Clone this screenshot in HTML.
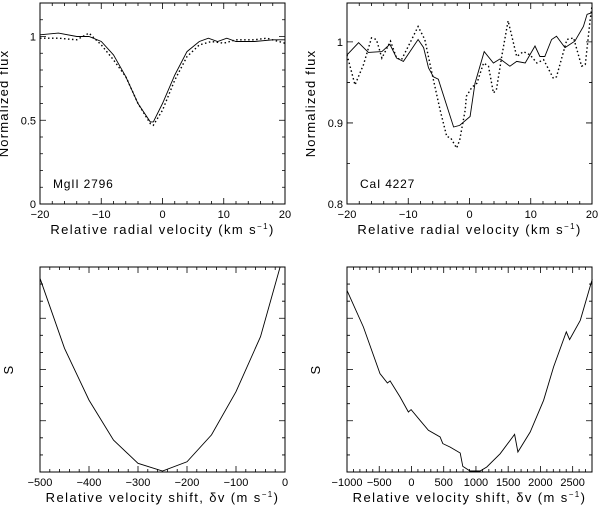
<!DOCTYPE html>
<html><head><meta charset="utf-8"><style>
html,body{margin:0;padding:0;background:#fff}
svg{display:block}
text{font-family:"Liberation Sans",sans-serif;fill:#000}
</style></head><body>
<svg id="fig" width="600" height="507" viewBox="0 0 600 507"></svg>
<script>
// ---- data ----
const mgVel = [-20,-17,-14,-12,-10,-8,-6,-4,-2,-1.5,0,2,4,6,7.5,9,10.5,12,15,18,20];
const mgFluxSolid = [1.01,1.02,1.0,1.0,0.97,0.89,0.76,0.6,0.49,0.49,0.6,0.77,0.91,0.97,0.99,0.97,0.99,0.97,0.97,0.98,0.98];
const mgVelDot = [-20,-17,-14,-12,-10,-8,-6,-4,-2,-1.5,0,2,4,6,8,10,12,15,17,20];
const mgFluxDot = [0.99,0.99,0.98,1.02,0.95,0.86,0.76,0.6,0.48,0.47,0.56,0.74,0.88,0.95,0.97,0.96,0.98,0.98,0.99,0.96];
const caVel = [-20,-18.1,-16.5,-14.3,-13,-11.9,-10.8,-8.4,-7.5,-6.7,-5.9,-5.1,-2.6,-1.6,0.1,0.9,2.4,3.9,5,6.6,7.7,9.1,10.7,11.5,12.3,13.4,14.2,15.6,17.2,18.6,19.2,20];
const caFluxSolid = [0.984,0.999,0.987,0.988,0.997,0.98,0.976,1.003,0.993,0.968,0.957,0.954,0.895,0.897,0.908,0.949,0.988,0.974,0.979,0.970,0.976,0.974,0.995,0.982,0.982,1.003,1.007,0.993,1.001,1.019,1.034,1.036];
const caVelDot = [-20,-18.7,-17.3,-16,-15.2,-14.3,-12.9,-11.9,-11.1,-9.7,-8.4,-7.3,-6.2,-4.8,-3.7,-3.1,-2.1,-1.6,-0.7,-0.5,0.4,1.2,2.3,3.1,3.9,4.4,5.3,6.3,7.7,8.8,9.9,11,12.1,13.7,14.2,15.9,17,18.3,18.9,19.7,20];
const caFluxDot = [0.984,0.947,0.972,1.005,1.003,0.98,1.001,0.98,0.978,0.999,1.019,1.003,0.964,0.916,0.883,0.882,0.869,0.879,0.916,0.933,0.944,0.949,0.974,0.970,0.937,0.941,0.984,1.026,0.982,0.988,0.984,0.974,0.978,0.955,0.957,1.003,1.005,0.970,0.972,1.028,1.044];
const mgShift = [-500,-450,-400,-350,-300,-250,-200,-150,-100,-50,-10];
const mgS = [11.34,7.24,4.21,1.87,0.51,0.06,0.6,2.17,4.7,7.92,12.0];
const caShift = [-1000,-746,-488,-374,-332,-177,-48,-6,134,263,444,486,600,755,796,910,1065,1169,1376,1599,1650,1842,2049,2204,2401,2452,2618,2805];
const caS = [10.63,8.49,5.76,5.21,5.33,4.39,3.51,3.65,3.02,2.44,2.05,1.66,1.46,1.11,0.33,0.06,0.06,0.29,1.07,2.2,1.17,2.34,4.2,6.15,8.2,7.75,8.88,11.3];
const tlXTicks = [-20,-10,0,10,20];
const tlYTicks = [0,0.5,1];
const trYTicks = [0.8,0.9,1];
const blXTicks = [-500,-400,-300,-200,-100,0];
const brXTicks = [-1000,-500,0,500,1000,1500,2000,2500];

const NS="http://www.w3.org/2000/svg";
const svg=document.getElementById('fig');
function mk(tag,attrs,parent){const e=document.createElementNS(NS,tag);for(const k in attrs)e.setAttribute(k,attrs[k]);(parent||svg).appendChild(e);return e;}

function panel(o){
  const g=mk('g',{});
  
  
  const sx=v=>o.x0+(v-o.xmin)/(o.xmax-o.xmin)*(o.x1-o.x0);
  const sy=v=>o.y1-(v-o.ymin)/(o.ymax-o.ymin)*(o.y1-o.y0);
  const fr=mk('rect',{x:o.x0,y:o.y0,width:o.x1-o.x0,height:o.y1-o.y0,fill:'none',stroke:'#000','stroke-width':1},g);
  
  
  let d='';
  for(let v=Math.ceil(o.xmin/o.xminor)*o.xminor;v<=o.xmax+1e-9;v+=o.xminor){
    const major=Math.abs(v/o.xmajor-Math.round(v/o.xmajor))<1e-6;const L=major?6:3;const X=sx(v);
    d+=`M${X},${o.y1}v${-L}M${X},${o.y0}v${L}`;
  }
  if(o.ymajor){
  for(let v=Math.ceil(o.ymin/o.yminor-1e-9)*o.yminor;v<=o.ymax+1e-9;v+=o.yminor){
    const major=Math.abs(v/o.ymajor-Math.round(v/o.ymajor))<1e-6;const L=major?6:3;const Y=sy(v);
    d+=`M${o.x0},${Y}h${L}M${o.x1},${Y}h${-L}`;
  }} else {
    for(let i=1;i<12;i++){const Y=sy(i);const L=i%3==0?6:3;d+=`M${o.x0},${Y}h${L}M${o.x1},${Y}h${-L}`;}
  }
  const tp=mk('path',{d:d,stroke:'#000','stroke-width':0.8,fill:'none'},g);
  
  
  o.xlabels.forEach(v=>{const t=mk('text',{x:sx(v),y:o.y1+14,'font-size':11,'text-anchor':'middle'},g);t.textContent=String(v).replace('-','\u2212');
    
    });
  (o.ylabels||[]).forEach(v=>{const t=mk('text',{x:o.x0-4,y:sy(v)+4,'font-size':11,'text-anchor':'end'},g);t.textContent=String(v);
    
    });
  const xt=mk('text',{x:(o.x0+o.x1)/2,y:o.y1+30,'font-size':13,'text-anchor':'middle','letter-spacing':'1.4'},g);
  xt.innerHTML=o.xtitle;
  
  
  const ytx=o.x0-(o.ylabels?32:27),yty=(o.y0+o.y1)/2;
  const yt=mk('text',{x:ytx,y:yty,'font-size':13,'text-anchor':'middle',transform:`rotate(-90 ${ytx} ${yty})`,'letter-spacing':'1.2'},g);
  yt.textContent=o.ytitle;
  
  
  if(o.label){const t=mk('text',{x:o.x0+13,y:o.y1-16,'font-size':12,'letter-spacing':'0.8'},g);t.textContent=o.label;
    
    }
  o.series.forEach(s=>{
    const pts=s.x.map((v,i)=>sx(v).toFixed(1)+','+sy(s.y[i]).toFixed(1)).join(' ');
    const p=mk('polyline',{points:pts,fill:'none',stroke:'#000','stroke-width':s.dot?1.4:0.9,'stroke-dasharray':s.dot?'1.5,2.5':'none'},g);
    
    
  });
}
const xtitleTop='Relative radial velocity (km s<tspan font-size="8" dy="-5">\u22121</tspan><tspan dy="5">)</tspan>';
const xtitleBot='Relative velocity shift, \u03b4v (m s<tspan font-size="8" dy="-5">\u22121</tspan><tspan dy="5">)</tspan>';
panel({name:'mgii-profile-panel',x0:40,x1:285,y0:3,y1:204,xmin:-20,xmax:20,ymin:0,ymax:1.2,xmajor:10,xminor:2,ymajor:0.5,yminor:0.1,
  xlabels:tlXTicks,ylabels:tlYTicks,xtitle:xtitleTop,ytitle:'Normalized flux',label:'MgII 2796',
  series:[{x:mgVel,y:mgFluxSolid,name:'mgii-solid-line'},{x:mgVelDot,y:mgFluxDot,dot:1,name:'mgii-dotted-line'}]});
panel({name:'cai-profile-panel',x0:347,x1:592,y0:3,y1:204,xmin:-20,xmax:20,ymin:0.8,ymax:1.048,xmajor:10,xminor:2,ymajor:0.1,yminor:0.05,
  xlabels:tlXTicks,ylabels:trYTicks,xtitle:xtitleTop,ytitle:'Normalized flux',label:'CaI 4227',
  series:[{x:caVel,y:caFluxSolid,name:'cai-solid-line'},{x:caVelDot,y:caFluxDot,dot:1,name:'cai-dotted-line'}]});
panel({name:'mgii-shift-panel',x0:40,x1:285,y0:267,y1:472,xmin:-500,xmax:0,ymin:0,ymax:12,xmajor:100,xminor:20,
  xlabels:blXTicks,xtitle:xtitleBot,ytitle:'S',
  series:[{x:mgShift,y:mgS,name:'mgii-s-curve'}]});
panel({name:'cai-shift-panel',x0:347,x1:592,y0:267,y1:472,xmin:-1000,xmax:2800,ymin:0,ymax:12,xmajor:500,xminor:100,
  xlabels:brXTicks,xtitle:xtitleBot,ytitle:'S',
  series:[{x:caShift,y:caS,name:'cai-s-curve'}]});
</script>
</body></html>
